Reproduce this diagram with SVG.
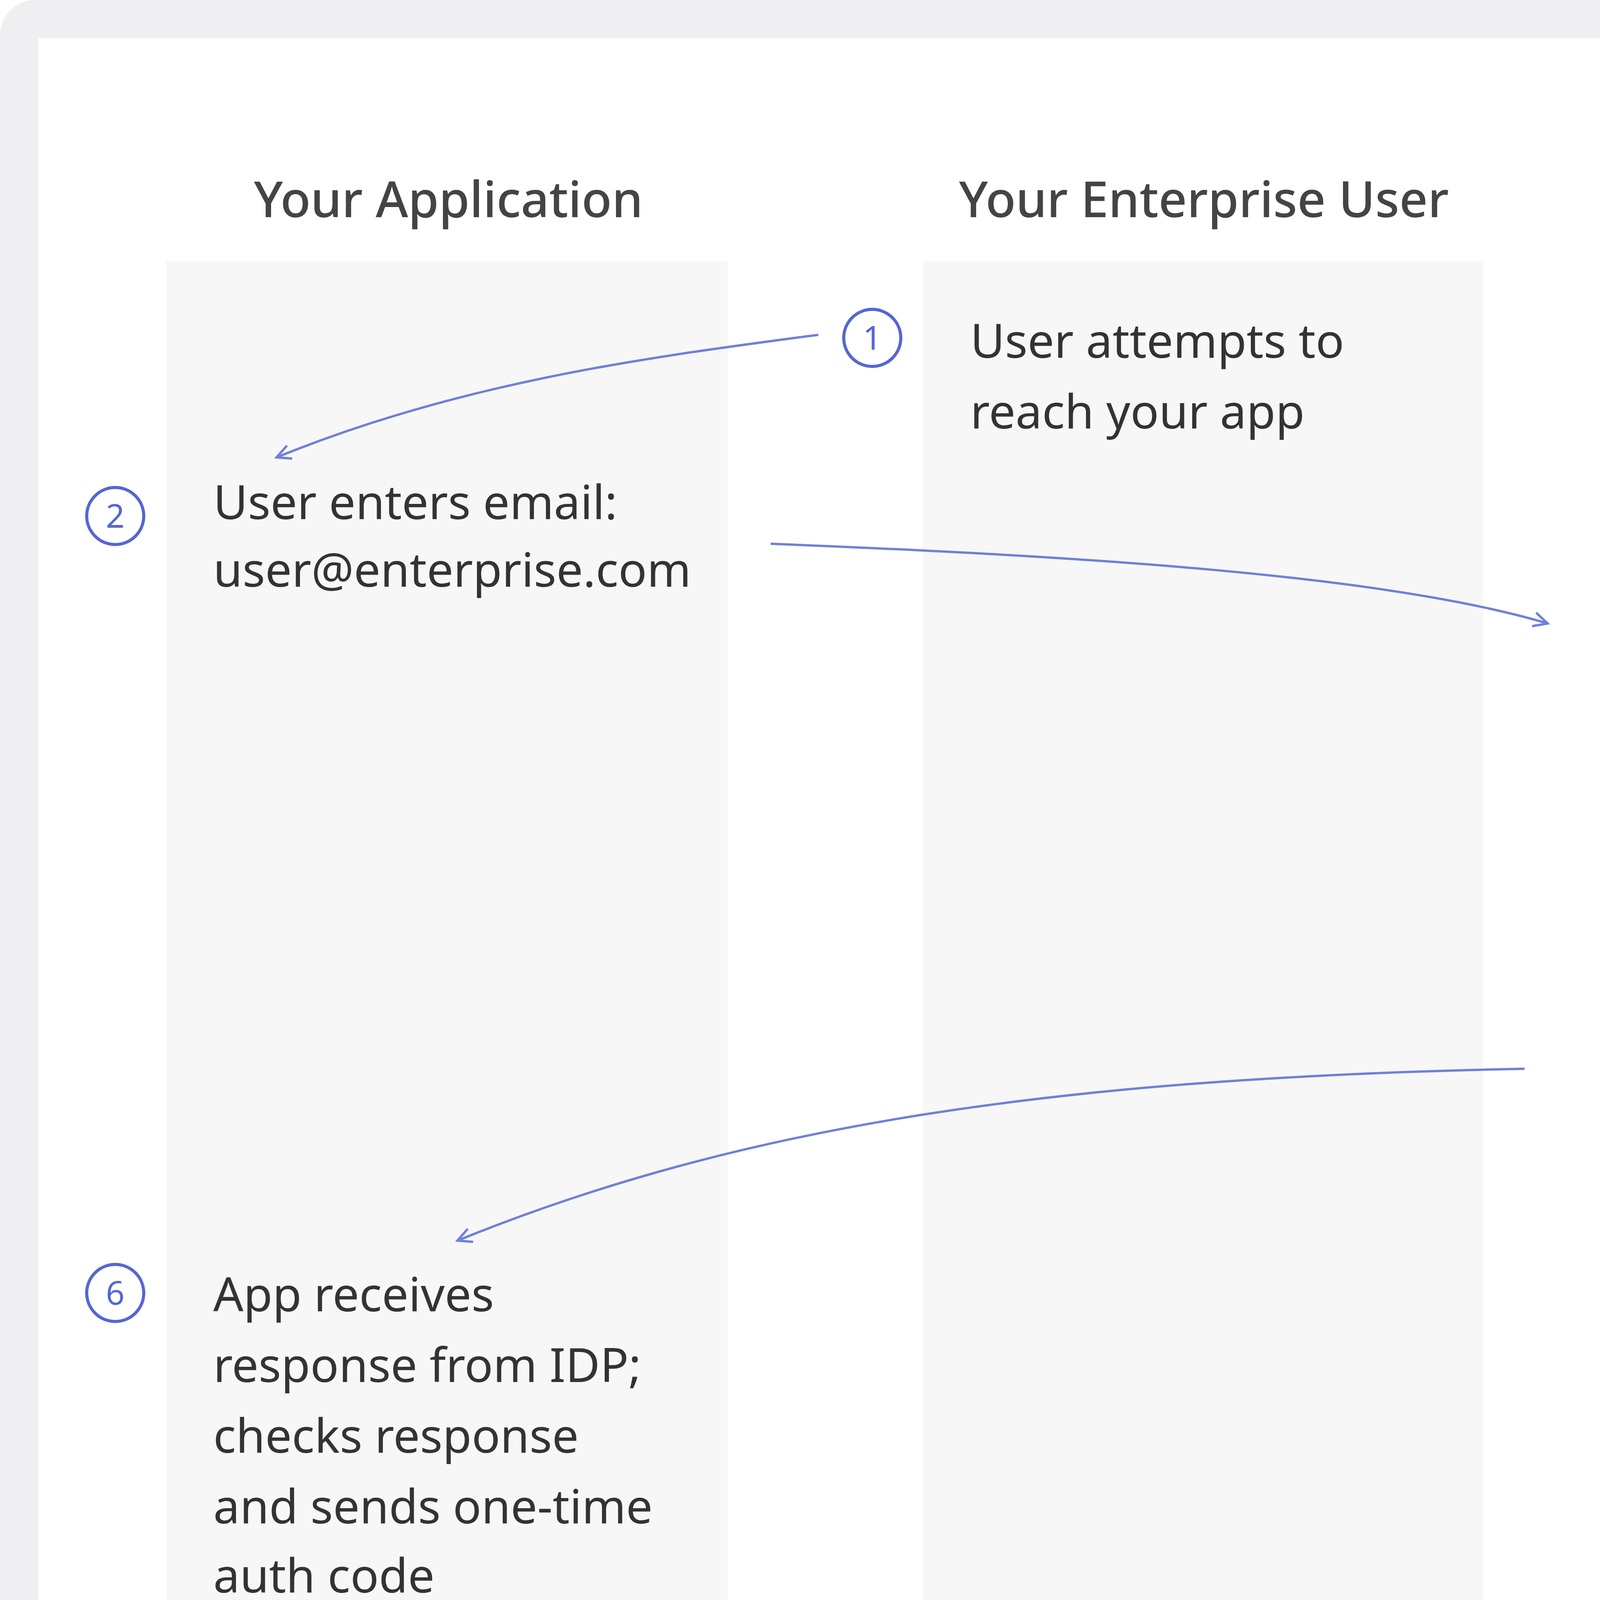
<svg xmlns="http://www.w3.org/2000/svg" width="6164" height="5324" viewBox="0 0 6164 5324">
<style>
.h{font-family:"Noto Sans","Open Sans",sans-serif;font-size:127px;fill:#444;text-anchor:middle;font-weight:500}
.t{font-family:"Noto Sans","Open Sans",sans-serif;font-size:121px;fill:#333}
.c{fill:none;stroke:#5566d4;stroke-width:8}
.n{font-family:"Noto Sans","Open Sans",sans-serif;font-size:84px;fill:#5566d4;text-anchor:middle}
.lane{fill:#f7f7f7}
.a{fill:none;stroke:#7080d8;stroke-width:6;marker-end:url(#m)}
</style>
<defs>
<marker id="m" markerUnits="userSpaceOnUse" markerWidth="60" markerHeight="60" refX="40" refY="22" orient="auto" viewBox="0 0 60 44">
<path d="M4,4 L40,22 L4,40" fill="none" stroke="#7080d8" stroke-width="6"/>
</marker>
</defs>
<rect x="0" y="0" width="6164" height="5324" rx="90" fill="#efeff2"/>
<rect x="98" y="98" width="5968" height="5122" fill="#fff"/>
<g id="lanes">
<rect class="lane" x="425" y="668" width="1438" height="4230"/>
<rect class="lane" x="2363" y="668" width="1434" height="4230"/>
<rect class="lane" x="4300" y="668" width="1439" height="4230"/>
<text class="h" x="1148" y="556">Your Application</text>
<text class="h" x="3082" y="556">Your Enterprise User</text>
<text class="h" x="5020" y="556">Identity Provider</text>
</g>
<g id="connectors">
<path class="a" d="M2095,857 C1700,910 1200,970 708,1171"/>
<path class="a" d="M1973,1392 C2750,1423 3540,1470 3962,1596"/>
<path class="a" d="M3903,2736 C2700,2760 1900,2880 1171,3176"/>
<path class="a" d="M1466,4521 C1760,4521 1980,4580 2146,4670"/>
</g>
<g id="s1"><circle class="c" cx="2233" cy="865" r="73"/><text class="n" x="2233" y="895">1</text>
<text class="t" x="2484" y="916">User attempts to</text><text class="t" x="2484" y="1097">reach your app</text></g>
<g id="s2"><circle class="c" cx="295" cy="1321" r="73"/><text class="n" x="295" y="1351">2</text>
<text class="t" x="546" y="1329">User enters email:</text><text class="t" x="546" y="1502">user@enterprise.com</text></g>
<g id="s3"><circle class="c" cx="4179" cy="1698" r="73"/><text class="n" x="4179" y="1728">3</text>
<text class="t" x="4430" y="1745">User is sent to</text><text class="t" x="4430" y="1926">IDP login</text></g>
<g id="s4"><circle class="c" cx="4179" cy="2233" r="73"/><text class="n" x="4179" y="2263">4</text>
<text class="t" x="4430" y="2280">User logs in via</text><text class="t" x="4430" y="2461">IDP</text></g>
<g id="s5"><circle class="c" cx="4179" cy="2771" r="73"/><text class="n" x="4179" y="2801">5</text>
<text class="t" x="4430" y="2822">IDP sends SAML</text><text class="t" x="4430" y="3003">authorization</text><text class="t" x="4430" y="3184">response</text></g>
<g id="s6"><circle class="c" cx="295" cy="3310" r="73"/><text class="n" x="295" y="3340">6</text>
<text class="t" x="546" y="3357">App receives</text><text class="t" x="546" y="3538">response from IDP;</text><text class="t" x="546" y="3719">checks response</text><text class="t" x="546" y="3900">and sends one-time</text><text class="t" x="546" y="4077">auth code</text></g>
<g id="s7"><circle class="c" cx="287" cy="4344" r="73"/><text class="n" x="287" y="4374">7</text>
<text class="t" x="546" y="4395">App receives</text><text class="t" x="546" y="4572">profile; returns</text><text class="t" x="546" y="4753">profile to user</text></g>
<g id="s8"><circle class="c" cx="2233" cy="4741" r="73"/><text class="n" x="2233" y="4771">8</text>
<text class="t" x="2484" y="4788">User logs in</text></g>
</svg>
